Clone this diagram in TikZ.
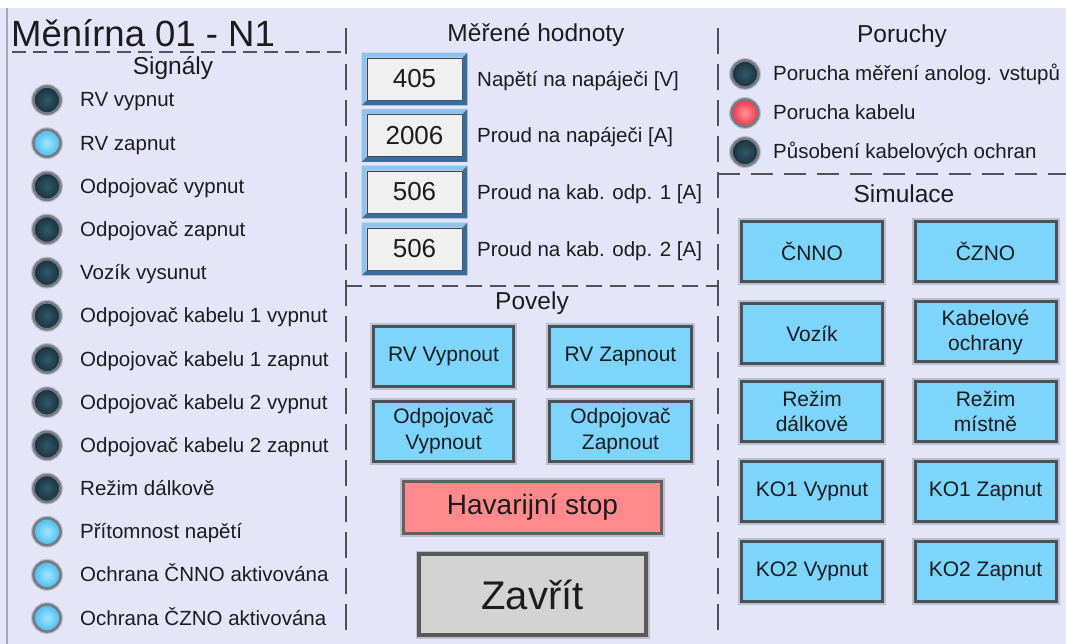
\documentclass[tikz,border=0pt]{standalone}
\usepackage{fontspec}
\setmainfont{Liberation Sans}
\definecolor{panelbg}{HTML}{E4E5F8}
\definecolor{frameline}{HTML}{A4A6B0}
\definecolor{dashgray}{HTML}{505256}
\definecolor{txt}{HTML}{1C1C1C}
\definecolor{btnfill}{HTML}{7DD5FC}
\definecolor{btnedge}{HTML}{4B5157}
\definecolor{halo}{HTML}{BDC0CC}
\definecolor{stopfill}{HTML}{FF8A8E}
\definecolor{closefill}{HTML}{D3D3D3}
\definecolor{valfill}{HTML}{F0F0F0}
\definecolor{bevlight}{HTML}{8EC3EE}
\definecolor{bevdark}{HTML}{3A6C9C}
\definecolor{ledring}{HTML}{767B82}
\definecolor{offin}{HTML}{34596A}
\definecolor{offout}{HTML}{17303C}
\definecolor{onin}{HTML}{A6E4FF}
\definecolor{onout}{HTML}{46BDF0}
\definecolor{redin}{HTML}{FF96A0}
\definecolor{redout}{HTML}{EE3346}
\begin{document}
\begin{tikzpicture}[x=1pt,y=-1pt,
  divider/.style={draw=dashgray, line width=1.6pt},
  heading/.style={anchor=base, inner sep=0pt, text=txt, font=\fontsize{24.5}{28}\selectfont},
  lbl/.style={anchor=base west, inner sep=0pt, text=txt, font=\fontsize{20.5}{24}\selectfont},
  led/.style={circle, minimum size=27pt, inner sep=0pt, draw=ledring, line width=2.6pt,
    preaction={draw=halo, line width=5pt}},
  ledoff/.style={led, inner color=offin, outer color=offout},
  ledon/.style={led, inner color=onin, outer color=onout},
  ledred/.style={led, inner color=redin, outer color=redout},
  btn/.style={draw=btnedge, line width=3pt, fill=btnfill, text=txt, align=center,
    inner sep=0pt, font=\fontsize{21}{26}\selectfont,
    preaction={draw=halo, line width=7pt}},
  valbox/.style={draw=black!75, line width=0.8pt, fill=valfill, text=txt, inner sep=0pt,
    minimum width=95pt, minimum height=42pt, font=\fontsize{26}{30}\selectfont},
]
\useasboundingbox (0,0) rectangle (1066,644);
% window background with the white strip above it
\fill[white] (0,0) rectangle (1066,644);
\fill[panelbg] (0,8) rectangle (1066,644);
\draw[frameline, line width=2pt] (7,8) -- (7,644);

% title and section dividers
\node[anchor=base west, inner sep=0pt, text=txt, font=\fontsize{36.5}{40}\selectfont] (title) at (11,47) {Měnírna 01 - N1};
\draw[divider, dash pattern=on 14pt off 7pt] (12,52) -- (346,52);
\draw[divider, dash pattern=on 26pt off 10pt] (346,28) -- (346,640);
\draw[divider, dash pattern=on 26pt off 10pt] (718,28) -- (718,640);
\draw[divider, dash pattern=on 16pt off 8pt] (346,286) -- (718,286);
\draw[divider, dash pattern=on 22pt off 11pt] (718,174) -- (1066,174);

% section headings
\node[heading] (hsig) at (173,75) {Signály};
\node[heading] (hmer) at (536,42) {Měřené hodnoty};
\node[heading] (hpor) at (902,43) {Poruchy};
\node[heading] (hsim) at (904,203) {Simulace};
\node[heading] (hpov) at (532,310) {Povely};

% signal lamps
\foreach \i/\st/\t in {0/off/RV vypnut, 1/on/RV zapnut, 2/off/Odpojovač vypnut,
    3/off/Odpojovač zapnut, 4/off/Vozík vysunut, 5/off/Odpojovač kabelu 1 vypnut,
    6/off/Odpojovač kabelu 1 zapnut, 7/off/Odpojovač kabelu 2 vypnut,
    8/off/Odpojovač kabelu 2 zapnut, 9/off/Režim dálkově, 10/on/Přítomnost napětí,
    11/on/Ochrana ČNNO aktivována, 12/on/Ochrana ČZNO aktivována}{
  \node[led\st] (sled\i) at (47,{100+43.17*\i}) {};
  \node[lbl] (slbl\i) at (80,{107+43.17*\i}) {\t};
}

% fault lamps
\foreach \i/\st/\t in {0/off/Porucha měření anolog. vstupů, 1/red/Porucha kabelu,
    2/off/Působení kabelových ochran}{
  \node[led\st] (pled\i) at (745,{74+39*\i}) {};
  \node[lbl] (plbl\i) at (773,{81+39*\i}) {\t};
}

% measured values
\foreach \i/\v/\t/\cy in {0/405/Napětí na napáječi [V]/79, 1/2006/Proud na napáječi [A]/135.5,
    2/506/Proud na kab. odp. 1 [A]/192, 3/506/Proud na kab. odp. 2 [A]/249}{
  \node[valbox] (val\i) at (414.5,\cy) {\v};
  \fill[bevlight] ([shift={(-5,-5)}]val\i.north west) -- ([shift={(5,-5)}]val\i.north east)
    -- (val\i.north east) -- (val\i.north west) -- (val\i.south west)
    -- ([shift={(-5,5)}]val\i.south west) -- cycle;
  \fill[bevdark] ([shift={(5,5)}]val\i.south east) -- ([shift={(-5,5)}]val\i.south west)
    -- (val\i.south west) -- (val\i.south east) -- (val\i.north east)
    -- ([shift={(5,-5)}]val\i.north east) -- cycle;
  \node[lbl] (vlbl\i) at (477,{\cy+7.5}) {\t};
}

% command buttons
\node[btn, minimum width=140pt, minimum height=60pt] (rvoff) at (443.5,356.5) {RV Vypnout};
\node[btn, minimum width=142pt, minimum height=60pt] (rvon) at (620.5,356.5) {RV Zapnout};
\node[btn, minimum width=140pt, minimum height=60pt] (odoff) at (443.5,431.5) {Odpojovač\\Vypnout};
\node[btn, minimum width=142pt, minimum height=60pt] (odon) at (620.5,431.5) {Odpojovač\\Zapnout};
\node[btn, fill=stopfill, draw=black!62, minimum width=258pt, minimum height=52pt,
  font=\fontsize{28}{32}\selectfont] (estop) at (532.5,507.5) {Havarijní stop};
\node[btn, fill=closefill, draw=black!65, line width=4pt, minimum width=227pt, minimum height=81pt,
  font=\fontsize{40}{44}\selectfont] (close) at (532.5,594.5) {Zavřít};

% simulation buttons
\foreach \n/\x/\y/\t in {cnno/812/251.5/ČNNO, czno/985.5/251.5/ČZNO,
    vozik/812/333.5/Vozík, kabel/985.5/332/Kabelové\\ochrany,
    dalk/812/411.5/Režim\\dálkově, mist/985.5/411.5/Režim\\místně,
    kozv/812/491/KO1 Vypnut, kozz/985.5/491/KO1 Zapnut,
    kodv/812/571.5/KO2 Vypnut, kodz/985.5/571.5/KO2 Zapnut}{
  \node[btn, minimum width=141pt, minimum height=60pt, font=\fontsize{21}{25}\selectfont] (\n) at (\x,\y) {\t};
}
\end{tikzpicture}
\end{document}
